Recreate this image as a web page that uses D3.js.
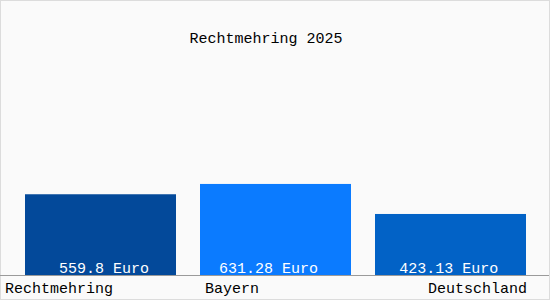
<!DOCTYPE html>
<html><head><meta charset="utf-8">
<script src="https://cdn.jsdelivr.net/npm/d3@7"></script>
<style>body{margin:0;padding:0;background:#fff}svg{display:block}</style>
</head><body>
<svg id="c" width="550" height="300"></svg>
<script>
const title = "Rechtmehring 2025";
const categories = ["Rechtmehring", "Bayern", "Deutschland"];
const values = [559.8, 631.28, 423.13];
const valueLabels = ["559.8 Euro", "631.28 Euro", "423.13 Euro"];
const colors = ["#03499a", "#0b7bff", "#0262c6"];

const W = 550, H = 300;
const svg = d3.select("#c");
const font = "'Liberation Mono', 'DejaVu Sans Mono', monospace";

svg.append("rect").attr("x", 0.5).attr("y", 0.5).attr("width", W - 1).attr("height", H - 1)
  .attr("fill", "#fafafa").attr("stroke", "#dcdcdc");

const x = d3.scaleBand().domain(categories).range([25, 550])
  .paddingInner(24 / 175).paddingOuter(12 / 175).align(0);
const y = d3.scaleLinear().domain([0, 1560]).range([275, 50]);

svg.append("text").attr("x", 266).attr("y", 43).attr("text-anchor", "middle")
  .attr("font-family", font).attr("font-size", 15).attr("fill", "#000").text(title);

svg.selectAll("rect.bar").data(categories).join("rect").attr("class", "bar")
  .attr("x", d => x(d)).attr("width", x.bandwidth())
  .attr("y", (d, i) => y(values[i])).attr("height", (d, i) => y(0) - y(values[i]))
  .attr("fill", (d, i) => colors[i]);

const valDx = [3.5, -7, -1.7];
svg.selectAll("text.val").data(categories).join("text").attr("class", "val")
  .attr("x", (d, i) => x(d) + x.bandwidth() / 2 + valDx[i]).attr("y", 273).attr("text-anchor", "middle")
  .attr("font-family", font).attr("font-size", 15).attr("fill", "#fff")
  .text((d, i) => valueLabels[i]);

svg.append("line").attr("x1", 0).attr("x2", 549).attr("y1", 275.5).attr("y2", 275.5)
  .attr("stroke", "#9a9a9a");

const anchors = ["start", "start", "end"];
const lx = [d => x(d) - 20, d => x(d) + 5, d => x(d) + x.bandwidth() + 1];
svg.selectAll("text.cat").data(categories).join("text").attr("class", "cat")
  .attr("x", (d, i) => lx[i](d)).attr("y", 293).attr("text-anchor", (d, i) => anchors[i])
  .attr("font-family", font).attr("font-size", 15).attr("fill", "#000").text(d => d);
</script>
</body></html>
